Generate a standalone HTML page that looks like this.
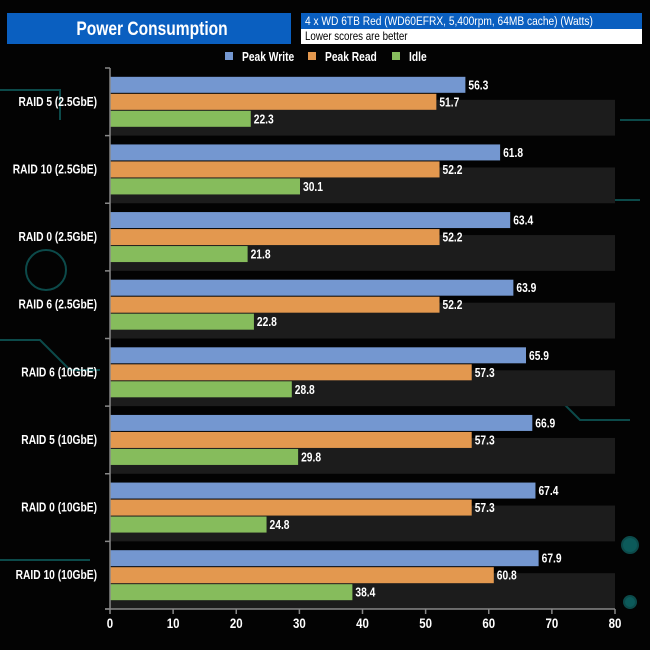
<!DOCTYPE html>
<html><head><meta charset="utf-8"><style>
html,body{margin:0;padding:0;background:#000;}
svg{display:block;font-family:"Liberation Sans",Arial,sans-serif;}
</style></head><body>
<svg id="chart" width="650" height="650" viewBox="0 0 650 650">
<rect x="0" y="0" width="650" height="650" fill="#030303"/>
<g stroke="#0c4a4a" stroke-width="2" fill="none">
<path d="M0 90 H60 V120"/><path d="M0 340 H40 L70 370 H100"/><path d="M640 200 H600 L570 170 H520"/>
<path d="M630 420 H580 L560 400 H520"/><path d="M0 560 H90"/><path d="M620 120 H650"/>
<circle cx="630" cy="545" r="8" fill="#0c5a5a"/><circle cx="630" cy="602" r="6" fill="#0c5a5a"/>
<circle cx="46" cy="270" r="20"/>
</g>
<g id="bands"></g>
<rect x="7" y="13" width="284" height="31" fill="#0a5fc0"/>
<text transform="translate(152,35) scale(0.82,1)" text-anchor="middle" fill="#fff" font-size="19" font-weight="bold">Power Consumption</text>
<rect x="301" y="13" width="341" height="31" fill="#fff"/>
<rect x="301" y="13" width="341" height="16" fill="#0a5fc0"/>
<text transform="translate(305,25) scale(0.85,1)" fill="#fff" font-size="12">4 x WD 6TB Red (WD60EFRX, 5,400rpm, 64MB cache)  (Watts)</text>
<text transform="translate(305,40) scale(0.85,1)" fill="#000" font-size="11.5">Lower scores are better</text>
<g id="legend"></g>
<g id="bars"></g>
<g id="axes"></g>
</svg>
<script>
const categories = ["RAID 5 (2.5GbE)","RAID 10 (2.5GbE)","RAID 0 (2.5GbE)","RAID 6 (2.5GbE)","RAID 6 (10GbE)","RAID 5 (10GbE)","RAID 0 (10GbE)","RAID 10 (10GbE)"];
const peakWrite = [56.3,61.8,63.4,63.9,65.9,66.9,67.4,67.9];
const peakRead = [51.7,52.2,52.2,52.2,57.3,57.3,57.3,60.8];
const idle = [22.3,30.1,21.8,22.8,28.8,29.8,24.8,38.4];
const seriesNames = ["Peak Write","Peak Read","Idle"];
const xTicks = [0,10,20,30,40,50,60,70,80];

const NS="http://www.w3.org/2000/svg";
const X0=110,X1=615,XMAX=80,YTOP=68,YBOT=609;
const colors=["#7497d0","#e3984f","#86bc5c"];
const xs=v=>X0+(v/XMAX)*(X1-X0);
const band=(YBOT-YTOP)/categories.length;
const yc=i=>YTOP+band*(i+0.5);
function mk(tag,attrs,parent){const e=document.createElementNS(NS,tag);for(const k in attrs)e.setAttribute(k,attrs[k]);parent.appendChild(e);return e;}
const tr=(x,y)=>"translate("+x+","+y+") scale(0.82,1)";
const bandsG=document.getElementById('bands'),barsG=document.getElementById('bars'),axG=document.getElementById('axes'),legG=document.getElementById('legend');
const series=[peakWrite,peakRead,idle];
categories.forEach((c,i)=>{
  const b=mk('rect',{x:X0,y:yc(i)-2,width:X1-X0,height:band/2+2,fill:"#1c1c1c"},bandsG);
  
  
  series.forEach((s,k)=>{
    const y=yc(i)-25+k*17;
    const r=mk('rect',{x:X0,y:y,width:xs(s[i])-X0,height:16,fill:colors[k]},barsG);
    
    
    const t=mk('text',{transform:tr(xs(s[i])+3,y+12.5),fill:"#fff","font-size":"12.5","font-weight":"bold"},barsG);
    t.textContent=s[i].toFixed(1);
    
    
  });
  const l=mk('text',{transform:tr(97,yc(i)+4),fill:"#fff","font-size":"12.5","font-weight":"bold","text-anchor":"end"},axG);
  l.textContent=c;
  
  
});
for(let i=0;i<=categories.length;i++){
  const t=mk('line',{x1:X0-5,x2:X0,y1:YTOP+band*i,y2:YTOP+band*i,stroke:"#888","stroke-width":"1.5"},axG);
  
  
}
const ya=mk('line',{x1:X0,x2:X0,y1:YTOP,y2:YBOT,stroke:"#888","stroke-width":"1.5"},axG);


const xa=mk('line',{x1:X0-5,x2:X1,y1:YBOT,y2:YBOT,stroke:"#888","stroke-width":"1.5"},axG);


xTicks.forEach(v=>{
  const t=mk('line',{x1:xs(v),x2:xs(v),y1:YBOT,y2:YBOT+5,stroke:"#888","stroke-width":"1.5"},axG);
  
  
  const l=mk('text',{transform:tr(xs(v),628),fill:"#fff","font-size":"14","font-weight":"bold","text-anchor":"middle"},axG);
  l.textContent=v;
  
  
});
const legX=[225,308,392];
seriesNames.forEach((n,k)=>{
  const r=mk('rect',{x:legX[k],y:52,width:8,height:8,fill:colors[k]},legG);
  
  
  const t=mk('text',{transform:tr(legX[k]+17,61),fill:"#fff","font-size":"12.5","font-weight":"bold"},legG);
  t.textContent=n;
  
  
});
</script>
</body></html>
